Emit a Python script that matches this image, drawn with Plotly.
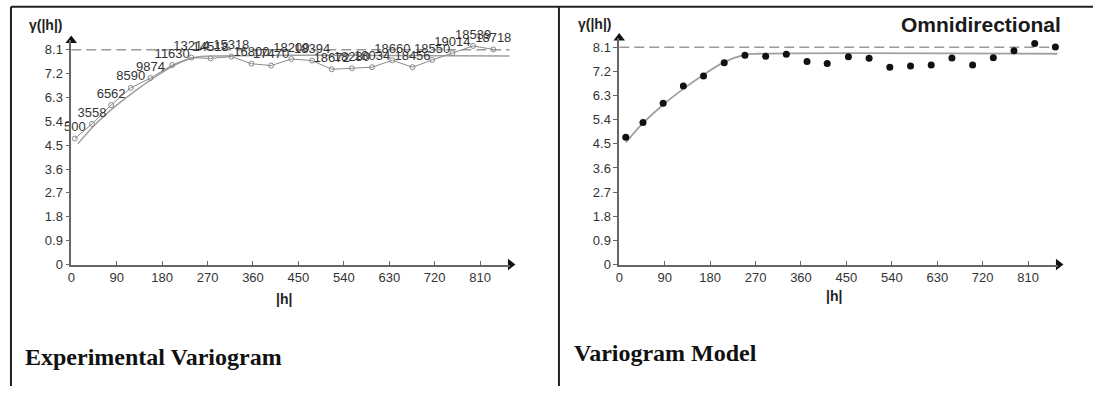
import plotly.graph_objects as go

# ---------------- data ----------------
lags_left = [7, 41, 79, 118, 157, 200, 238, 276, 317, 357, 396, 436, 477, 516,
             556, 596, 636, 676, 715, 755, 796, 836]
lags_right = [13, 47, 87, 127, 167, 208, 249, 290, 331, 372, 412, 454, 495, 536,
              577, 618, 659, 700, 741, 782, 823, 864]
gamma = [4.75, 5.30, 6.01, 6.66, 7.03, 7.52, 7.80, 7.77, 7.84, 7.57, 7.50, 7.75,
         7.69, 7.36, 7.40, 7.44, 7.70, 7.44, 7.71, 7.97, 8.24, 8.11]
pair_counts = ["500", "3558", "6562", "8590", "9874", "11630", "13214", "14518",
               "15318", "16800", "17470", "18209", "18394", "18672", "18280",
               "18034", "18660", "18456", "18550", "19014", "18539", "18718"]

model_lags = [13, 47, 87, 127, 167, 208, 249, 276, 868]
model_gamma = [4.55, 5.27, 5.96, 6.55, 7.08, 7.55, 7.82, 7.86, 7.86]

sill_lags = [0, 868]
sill_gamma = [8.1, 8.1]

x_ticks = [0, 90, 180, 270, 360, 450, 540, 630, 720, 810]
x_ticktext = ["0", "90", "180", "270", "360", "450", "540", "630", "720", "810"]
y_ticks = [0, 0.9, 1.8, 2.7, 3.6, 4.5, 5.4, 6.3, 7.2, 8.1]
y_ticktext = ["0", "0.9", "1.8", "2.7", "3.6", "4.5", "5.4", "6.3", "7.2", "8.1"]

X_MAX = 870
Y_MAX = 8.45

# ---------------- figure ----------------
W, H = 1093, 394
fig = go.Figure()

grey_line = "#9a9a9a"
SANS = "Liberation Sans, Arial"
SERIF = "Liberation Serif, Times New Roman"

# Left panel: experimental variogram
fig.add_trace(go.Scatter(x=sill_lags, y=sill_gamma, mode="lines",
                         line=dict(color=grey_line, width=1.5, dash="10px,5px"),
                         xaxis="x", yaxis="y", hoverinfo="skip"))
fig.add_trace(go.Scatter(x=model_lags, y=model_gamma, mode="lines",
                         line=dict(color="#a0a0a0", width=1.5, shape="spline"),
                         xaxis="x", yaxis="y", hoverinfo="skip"))
fig.add_trace(go.Scatter(x=lags_left, y=gamma, mode="lines+markers+text",
                         text=pair_counts, textposition="top center",
                         textfont=dict(family=SANS, size=13, color="#333"),
                         line=dict(color="#8a8a8a", width=1),
                         marker=dict(symbol="circle-open", size=5, color="#8a8a8a",
                                     line=dict(width=1)),
                         cliponaxis=False, xaxis="x", yaxis="y"))

# Right panel: variogram model
fig.add_trace(go.Scatter(x=sill_lags, y=sill_gamma, mode="lines",
                         line=dict(color=grey_line, width=1.5, dash="10px,5px"),
                         xaxis="x2", yaxis="y2", hoverinfo="skip"))
fig.add_trace(go.Scatter(x=model_lags, y=model_gamma, mode="lines",
                         line=dict(color="#a0a0a0", width=1.8, shape="spline"),
                         xaxis="x2", yaxis="y2", hoverinfo="skip"))
fig.add_trace(go.Scatter(x=lags_right, y=gamma, mode="markers",
                         marker=dict(symbol="circle", size=7, color="#111"),
                         cliponaxis=False, xaxis="x2", yaxis="y2"))

# axis arrow heads
for xa, ya in (("x", "y"), ("x2", "y2")):
    fig.add_trace(go.Scatter(x=[X_MAX], y=[0], mode="markers",
                             marker=dict(symbol="triangle-right", size=10, color="#111"),
                             cliponaxis=False, xaxis=xa, yaxis=ya, hoverinfo="skip"))
    fig.add_trace(go.Scatter(x=[0], y=[Y_MAX], mode="markers",
                             marker=dict(symbol="triangle-up", size=10, color="#111"),
                             cliponaxis=False, xaxis=xa, yaxis=ya, hoverinfo="skip"))

px_per_h = 45.6 / 90.0
def xdom(x0px):
    return [x0px / W, (x0px + X_MAX * px_per_h) / W]

def ydom(zero_px, top_val_px):
    ppu = (zero_px - top_val_px) / 8.1
    top = zero_px - Y_MAX * ppu
    return [(H - zero_px) / H, (H - top) / H]

tickfont = dict(family=SANS, size=13, color="#333")
axis_common = dict(showgrid=False, zeroline=False, showline=True, linecolor="#666",
                   linewidth=1.5, tickfont=tickfont, ticklen=4, tickcolor="#666",
                   tickwidth=1)

fig.update_layout(
    width=W, height=H, margin=dict(l=0, r=0, t=0, b=0),
    paper_bgcolor="white", plot_bgcolor="white", showlegend=False,
    xaxis=dict(domain=xdom(67.5), range=[0, X_MAX], anchor="y", tickvals=x_ticks,
               ticktext=x_ticktext, ticks="inside", **axis_common),
    yaxis=dict(domain=ydom(270, 50.7), range=[0, Y_MAX], anchor="x", tickvals=y_ticks,
               ticktext=y_ticktext, ticks="outside", **axis_common),
    xaxis2=dict(domain=xdom(617.5), range=[0, X_MAX], anchor="y2", tickvals=x_ticks,
                ticktext=x_ticktext, ticks="inside", **axis_common),
    yaxis2=dict(domain=ydom(270, 48.3), range=[0, Y_MAX], anchor="x2", tickvals=y_ticks,
                ticktext=y_ticktext, ticks="outside", **axis_common),
)

def ann(text, xpx, ypx, size, family=SANS, xanchor="center", color="#222"):
    fig.add_annotation(text=text, x=xpx / W, y=1 - ypx / H, xref="paper", yref="paper",
                       showarrow=False, xanchor=xanchor, yanchor="middle",
                       borderpad=0, font=dict(family=family, size=size, color=color))

ann("<b>γ(|h|)</b>", 42, 26, 14)
ann("<b>γ(|h|)</b>", 593, 24, 14)
ann("<b>|h|</b>", 281, 305, 14)
ann("<b>|h|</b>", 833, 302, 14)
ann("<b>Omnidirectional</b>", 981, 25, 21, color="#1a1a1a")
ann("<b>Experimental Variogram</b>", 20, 364, 24, family=SERIF, xanchor="left",
    color="#111")
ann("<b>Variogram Model</b>", 571, 360, 24, family=SERIF, xanchor="left",
    color="#111")

# panel frames
frame = dict(color="#222", width=2)
fig.add_shape(type="line", xref="paper", yref="paper", x0=7 / W, x1=1, y0=1 - 7 / H,
              y1=1 - 7 / H, line=frame)
fig.add_shape(type="line", xref="paper", yref="paper", x0=7 / W, x1=7 / W, y0=0,
              y1=1 - 7 / H, line=frame)
fig.add_shape(type="line", xref="paper", yref="paper", x0=557 / W, x1=557 / W, y0=0,
              y1=1 - 7 / H, line=frame)

fig.write_html("out.html", config={"displayModeBar": False},
               post_script="document.body.style.margin='0';")
